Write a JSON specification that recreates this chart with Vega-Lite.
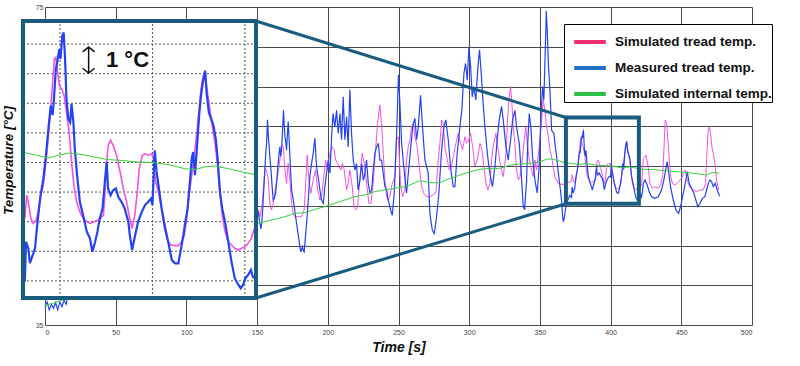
{
"$schema": "https://vega.github.io/schema/vega-lite/v6.json",
"width": 707, "height": 318,
"autosize": {"type": "none"},
"padding": {"left": 45, "top": 7, "right": 48, "bottom": 41},
"config": {
 "view": {"stroke": null},
 "font": "Liberation Sans",
 "axis": {"grid": true, "gridColor": "#4a4a4a", "gridWidth": 1, "domain": false, "ticks": false, "labelFont": "Liberation Sans", "labelFontSize": 7, "labelColor": "#444", "titleFont": "Liberation Sans", "titleFontWeight": "bold", "titleFontStyle": "italic", "titleColor": "#111", "titleFontSize": 14},
 "axisX": {"tickCount": 10, "labelPadding": 3, "titlePadding": 5},
 "axisY": {"tickCount": 8, "labelPadding": 2, "titleX": -30, "titleY": 153, "titleFontSize": 13.5}
},
"datasets": {
 "blue": [
 {"time":0,"temp":37.2},{"time":1.5,"temp":37.9},{"time":3,"temp":36.9},{"time":4.5,"temp":37.6},{"time":6,"temp":37.1},{"time":7.5,"temp":37.8},{"time":9,"temp":36.9},{"time":10.5,"temp":37.9},{"time":12,"temp":37.3},{"time":13.5,"temp":38.1},{"time":15,"temp":37.6},{"time":17,"temp":39.5},{"time":25,"temp":45},{"time":35,"temp":53},{"time":45,"temp":58},{"time":55,"temp":52},{"time":65,"temp":47},{"time":75,"temp":53},{"time":85,"temp":58},{"time":95,"temp":50},{"time":105,"temp":47},{"time":115,"temp":55},{"time":125,"temp":60},{"time":135,"temp":53},{"time":145,"temp":48},
 {"time":149.5,"temp":49.6},{"time":150.8,"temp":49.2},{"time":151.8,"temp":48.0},{"time":152.7,"temp":47.1},{"time":153.5,"temp":48.2},{"time":154.3,"temp":50.7},{"time":155.0,"temp":52.8},{"time":155.5,"temp":54.5},{"time":156.1,"temp":56.6},{"time":156.7,"temp":57.9},{"time":157.4,"temp":60.8},{"time":158.0,"temp":58.5},{"time":158.3,"temp":57.9},{"time":159.1,"temp":56.0},{"time":159.8,"temp":54.5},{"time":160.6,"temp":52.5},{"time":161.4,"temp":50.7},{"time":162.3,"temp":51.0},{"time":163.1,"temp":51.6},{"time":163.8,"temp":53.0},{"time":164.5,"temp":54.5},{"time":165.3,"temp":56.2},{"time":166.1,"temp":57.4},{"time":166.7,"temp":56.2},{"time":167.3,"temp":57.0},{"time":168.0,"temp":59.5},{"time":168.7,"temp":62.0},{"time":169.2,"temp":60.0},{"time":169.7,"temp":58.7},{"time":170.3,"temp":58.0},{"time":170.8,"temp":57.0},{"time":171.4,"temp":58.8},{"time":172.0,"temp":60.6},{"time":172.6,"temp":58.5},{"time":173.2,"temp":56.2},{"time":173.8,"temp":54.0},{"time":174.4,"temp":52.0},{"time":175.3,"temp":51.0},{"time":176.3,"temp":49.9},{"time":177.1,"temp":48.8},{"time":177.9,"temp":47.8},{"time":178.7,"temp":46.8},{"time":179.6,"temp":45.7},{"time":180.3,"temp":44.8},{"time":181.0,"temp":44.2},{"time":181.6,"temp":44.6},{"time":182.1,"temp":44.85},{"time":182.7,"temp":44.3},{"time":183.3,"temp":44.2},{"time":184.1,"temp":45.9},{"time":185.0,"temp":47.8},{"time":185.6,"temp":49.2},{"time":186.2,"temp":50.7},{"time":186.7,"temp":52.2},{"time":187.3,"temp":53.6},{"time":187.9,"temp":54.5},{"time":188.5,"temp":55.3},{"time":189.1,"temp":56.0},{"time":189.7,"temp":56.6},{"time":190.3,"temp":57.6},{"time":190.9,"temp":58.5},{"time":191.5,"temp":56.5},{"time":192.1,"temp":54.9},{"time":192.6,"temp":54.2},{"time":193.2,"temp":53.6},{"time":193.8,"temp":52.8},{"time":194.4,"temp":52.0},{"time":195.0,"temp":51.3},{"time":195.6,"temp":50.7},{"time":196.2,"temp":50.5},{"time":196.8,"temp":50.3},{"time":197.4,"temp":51.3},{"time":197.9,"temp":52.4},{"time":198.5,"temp":53.2},{"time":199.1,"temp":54.1},{"time":199.7,"temp":55.0},{"time":200.3,"temp":55.75},{"time":200.9,"temp":55.0},{"time":201.5,"temp":54.1},{"time":202.1,"temp":56.4},{"time":202.7,"temp":58.7},{"time":203.2,"temp":60.3},{"time":203.8,"temp":61.6},{"time":204.4,"temp":60.6},{"time":205.0,"temp":59.9},{"time":205.6,"temp":61.0},{"time":206.2,"temp":62.0},{"time":206.8,"temp":60.5},{"time":207.4,"temp":59.1},{"time":208.0,"temp":60.4},{"time":208.6,"temp":61.6},{"time":209.2,"temp":59.8},{"time":209.7,"temp":58.3},{"time":210.3,"temp":61.0},{"time":210.9,"temp":63.7},{"time":211.5,"temp":60.9},{"time":212.1,"temp":58.3},{"time":212.7,"temp":59.8},{"time":213.3,"temp":61.2},{"time":213.8,"temp":59.3},{"time":214.4,"temp":57.4},{"time":215.0,"temp":61.0},{"time":215.6,"temp":64.6},{"time":216.2,"temp":61.8},{"time":216.8,"temp":59.1},{"time":217.4,"temp":57.4},{"time":218.0,"temp":55.75},{"time":218.6,"temp":55.1},{"time":219.2,"temp":54.5},{"time":219.8,"temp":54.9},{"time":220.3,"temp":55.3},{"time":220.9,"temp":53.6},{"time":221.5,"temp":52.0},{"time":222.1,"temp":52.6},{"time":222.7,"temp":53.2},{"time":223.3,"temp":54.3},{"time":223.9,"temp":55.3},{"time":224.5,"temp":54.3},{"time":225.1,"temp":53.2},{"time":225.7,"temp":53.6},{"time":226.2,"temp":54.1},{"time":226.8,"temp":54.9},{"time":227.4,"temp":55.75},{"time":228.0,"temp":54.3},{"time":228.6,"temp":52.8},{"time":229.2,"temp":52.2},{"time":229.8,"temp":51.6},{"time":230.4,"temp":51.8},{"time":231.0,"temp":52.0},{"time":231.6,"temp":53.2},{"time":232.1,"temp":54.5},{"time":232.7,"temp":55.5},{"time":233.3,"temp":56.6},{"time":233.9,"temp":57.0},{"time":234.5,"temp":57.4},{"time":235.1,"temp":57.6},{"time":235.7,"temp":57.85},{"time":236.3,"temp":56.8},{"time":236.8,"temp":55.75},{"time":237.4,"temp":55.75},{"time":238.0,"temp":55.75},{"time":238.6,"temp":54.9},{"time":239.2,"temp":54.1},{"time":239.8,"temp":53.2},{"time":240.4,"temp":52.4},{"time":241.0,"temp":52.2},{"time":241.6,"temp":52.0},{"time":242.1,"temp":51.4},{"time":242.7,"temp":50.7},{"time":243.3,"temp":50.3},{"time":243.9,"temp":49.9},{"time":244.7,"temp":49.3},{"time":245.6,"temp":48.8},{"time":246.3,"temp":50.2},{"time":247.0,"temp":51.6},{"time":247.7,"temp":54.7},{"time":248.4,"temp":57.9},{"time":248.9,"temp":60.2},{"time":249.3,"temp":62.5},{"time":249.7,"temp":65.0},{"time":250.0,"temp":66.5},{"time":250.5,"temp":64.6},{"time":251.0,"temp":62.9},{"time":251.6,"temp":60.4},{"time":252.2,"temp":57.9},{"time":252.8,"temp":56.8},{"time":253.4,"temp":55.5},{"time":254.0,"temp":54.5},{"time":254.6,"temp":53.4},{"time":255.2,"temp":52.4},{"time":255.7,"temp":51.6},{"time":256.3,"temp":52.8},{"time":256.9,"temp":54.0},{"time":257.5,"temp":55.1},{"time":258.1,"temp":56.2},{"time":258.7,"temp":57.5},{"time":259.4,"temp":58.7},{"time":260.0,"temp":59.9},{"time":260.8,"temp":60.5},{"time":261.6,"temp":61.0},{"time":262.2,"temp":59.6},{"time":262.8,"temp":58.3},{"time":263.4,"temp":59.1},{"time":264.0,"temp":59.9},{"time":264.8,"temp":61.9},{"time":265.6,"temp":63.9},{"time":266.3,"temp":61.9},{"time":267.0,"temp":59.9},{"time":267.8,"temp":57.9},{"time":268.7,"temp":55.75},{"time":269.8,"temp":55.0},{"time":271.0,"temp":54.1},{"time":271.6,"temp":51.6},{"time":272.2,"temp":49.0},{"time":273.0,"temp":48.0},{"time":273.9,"temp":46.95},{"time":274.6,"temp":46.7},{"time":275.3,"temp":46.5},{"time":276.1,"temp":47.5},{"time":276.9,"temp":48.6},{"time":277.7,"temp":50.0},{"time":278.6,"temp":51.6},{"time":279.5,"temp":54.3},{"time":280.5,"temp":57.0},{"time":281.3,"temp":58.5},{"time":282.1,"temp":59.9},{"time":282.8,"temp":60.4},{"time":283.5,"temp":60.8},{"time":284.3,"temp":59.5},{"time":285.2,"temp":58.3},{"time":286.0,"temp":56.6},{"time":286.8,"temp":54.9},{"time":287.7,"temp":53.6},{"time":288.7,"temp":52.4},{"time":289.3,"temp":52.4},{"time":289.9,"temp":52.4},{"time":290.7,"temp":54.5},{"time":291.5,"temp":56.6},{"time":292.5,"temp":58.3},{"time":293.4,"temp":59.9},{"time":294.1,"temp":61.0},{"time":294.8,"temp":62.0},{"time":295.5,"temp":64.3},{"time":296.3,"temp":66.7},{"time":296.9,"temp":67.3},{"time":297.4,"temp":67.9},{"time":298.0,"temp":66.9},{"time":298.6,"temp":65.8},{"time":299.2,"temp":67.9},{"time":299.8,"temp":70.0},{"time":300.4,"temp":68.7},{"time":301.0,"temp":67.5},{"time":301.6,"temp":65.6},{"time":302.1,"temp":63.7},{"time":302.7,"temp":64.3},{"time":303.3,"temp":65.0},{"time":304.0,"temp":64.1},{"time":304.7,"temp":63.3},{"time":305.4,"temp":65.4},{"time":306.2,"temp":67.5},{"time":306.7,"temp":68.5},{"time":307.3,"temp":69.6},{"time":307.9,"temp":68.1},{"time":308.5,"temp":66.7},{"time":309.1,"temp":65.0},{"time":309.7,"temp":63.3},{"time":310.4,"temp":61.6},{"time":311.1,"temp":59.9},{"time":312.0,"temp":58.3},{"time":312.8,"temp":56.6},{"time":313.7,"temp":55.3},{"time":314.6,"temp":54.1},{"time":315.5,"temp":53.2},{"time":316.5,"temp":52.4},{"time":317.3,"temp":53.7},{"time":318.2,"temp":54.9},{"time":319.0,"temp":56.6},{"time":319.8,"temp":58.3},{"time":320.5,"temp":59.5},{"time":321.2,"temp":60.8},{"time":322.0,"temp":61.6},{"time":322.9,"temp":62.5},{"time":323.5,"temp":61.6},{"time":324.1,"temp":60.8},{"time":325.0,"temp":59.1},{"time":326.0,"temp":57.4},{"time":326.8,"temp":56.6},{"time":327.6,"temp":55.75},{"time":328.4,"temp":57.0},{"time":329.3,"temp":58.3},{"time":330.0,"temp":59.5},{"time":330.7,"temp":60.8},{"time":331.5,"temp":61.4},{"time":332.3,"temp":62.0},{"time":332.9,"temp":61.0},{"time":333.5,"temp":59.9},{"time":334.4,"temp":58.9},{"time":335.4,"temp":57.85},{"time":336.1,"temp":56.0},{"time":336.8,"temp":54.1},{"time":337.5,"temp":52.0},{"time":338.2,"temp":49.9},{"time":338.7,"temp":49.7},{"time":339.2,"temp":49.5},{"time":339.9,"temp":51.4},{"time":340.6,"temp":53.2},{"time":341.0,"temp":55.7},{"time":341.5,"temp":58.3},{"time":342.0,"temp":60.0},{"time":342.5,"temp":61.6},{"time":343.0,"temp":60.8},{"time":343.6,"temp":59.9},{"time":344.2,"temp":58.0},{"time":344.8,"temp":56.2},{"time":345.6,"temp":54.7},{"time":346.5,"temp":53.2},{"time":347.3,"temp":52.4},{"time":348.1,"temp":51.6},{"time":348.8,"temp":53.3},{"time":349.5,"temp":54.9},{"time":350.2,"temp":58.5},{"time":350.9,"temp":62.0},{"time":351.4,"temp":63.5},{"time":351.9,"temp":65.0},{"time":352.3,"temp":64.2},{"time":352.8,"temp":63.3},{"time":353.3,"temp":66.5},{"time":353.8,"temp":69.6},{"time":354.2,"temp":72.0},{"time":354.5,"temp":74.5},{"time":354.9,"temp":73.0},{"time":355.2,"temp":72.1},{"time":355.6,"temp":69.8},{"time":356.1,"temp":67.5},{"time":356.6,"temp":66.0},{"time":357.1,"temp":64.6},{"time":357.7,"temp":62.0},{"time":358.3,"temp":59.5},{"time":359.1,"temp":59.3},{"time":359.9,"temp":59.1},{"time":360.8,"temp":57.6},{"time":361.8,"temp":56.2},{"time":362.7,"temp":54.7},{"time":363.7,"temp":53.2},{"time":364.5,"temp":52.0},{"time":365.3,"temp":50.7},{"time":365.9,"temp":49.0},{"time":366.5,"temp":48.0},{"time":367.2,"temp":48.4},{"time":368.0,"temp":49.5},{"time":369.0,"temp":50.4},{"time":370.0,"temp":50.8},{"time":371.0,"temp":51.3},{"time":371.8,"temp":51.2},
 {"time":372.4,"temp":50.97},{"time":372.65,"temp":52.32},{"time":373.15,"temp":52.1},{"time":373.5,"temp":51.6},{"time":374.1,"temp":51.87},{"time":374.6,"temp":52.1},{"time":375.0,"temp":52.77},{"time":375.3,"temp":53.22},{"time":375.8,"temp":53.89},{"time":376.4,"temp":54.45},{"time":376.97,"temp":55.24},{"time":377.5,"temp":56.14},{"time":378.0,"temp":56.92},{"time":378.4,"temp":56.6},{"time":378.7,"temp":57.15},{"time":379.1,"temp":58.16},{"time":379.4,"temp":58.38},{"time":379.85,"temp":58.83},{"time":380.1,"temp":58.5},{"time":380.5,"temp":59.28},{"time":380.8,"temp":59.39},{"time":381.1,"temp":58.5},{"time":381.4,"temp":57.15},{"time":381.8,"temp":56.47},{"time":382.2,"temp":56.36},{"time":382.5,"temp":56.98},{"time":382.9,"temp":56.36},{"time":383.2,"temp":55.46},{"time":383.7,"temp":54.57},{"time":384.3,"temp":53.67},{"time":385.0,"temp":53.22},{"time":385.8,"temp":52.66},{"time":386.5,"temp":52.43},{"time":387.0,"temp":51.98},{"time":387.6,"temp":52.32},{"time":388.1,"temp":52.66},{"time":388.6,"temp":53.11},{"time":389.2,"temp":53.44},{"time":389.7,"temp":54.34},{"time":390.1,"temp":55.02},{"time":390.4,"temp":54.12},{"time":390.95,"temp":53.89},{"time":391.5,"temp":54.06},{"time":392.1,"temp":54.12},{"time":392.6,"temp":53.84},{"time":393.3,"temp":53.67},{"time":394.0,"temp":53.44},{"time":394.8,"temp":52.99},{"time":395.1,"temp":52.55},{"time":395.6,"temp":52.04},{"time":396.2,"temp":52.5},{"time":396.9,"temp":53.0},{"time":397.7,"temp":53.33},{"time":398.4,"temp":53.56},{"time":399.1,"temp":53.67},{"time":399.7,"temp":53.78},{"time":400.0,"temp":53.56},{"time":400.5,"temp":55.41},{"time":400.9,"temp":54.68},{"time":401.4,"temp":54.12},{"time":402.0,"temp":53.44},{"time":402.7,"temp":52.77},{"time":403.4,"temp":52.32},{"time":404.2,"temp":51.7},{"time":404.9,"temp":51.59},{"time":405.6,"temp":51.59},{"time":406.2,"temp":52.1},{"time":406.7,"temp":52.55},{"time":407.0,"temp":52.88},{"time":407.6,"temp":53.44},{"time":408.1,"temp":54.34},{"time":408.5,"temp":55.13},{"time":408.8,"temp":55.35},{"time":409.2,"temp":54.57},{"time":409.6,"temp":55.46},{"time":410.1,"temp":56.59},{"time":410.5,"temp":57.26},{"time":410.9,"temp":57.71},{"time":411.4,"temp":58.1},{"time":411.7,"temp":57.37},{"time":412.2,"temp":56.7},{"time":412.7,"temp":56.47},{"time":413.2,"temp":56.25},{"time":413.7,"temp":55.8},{"time":414.1,"temp":55.13},{"time":414.6,"temp":54.0},{"time":415.1,"temp":53.44},{"time":415.7,"temp":52.99},{"time":416.4,"temp":52.32},{"time":417.1,"temp":51.65},{"time":417.8,"temp":51.09},{"time":418.6,"temp":50.86},{"time":419.1,"temp":50.75},{"time":419.6,"temp":50.86},{"time":420.1,"temp":51.09},{"time":420.7,"temp":51.2},{"time":421.3,"temp":51.37},{"time":421.8,"temp":51.09},
 {"time":422.6,"temp":51.8},{"time":423.1,"temp":52.82},{"time":424.3,"temp":53.24},{"time":425.9,"temp":52.61},{"time":427.3,"temp":51.77},{"time":429.0,"temp":51.14},{"time":431.3,"temp":50.93},{"time":433.7,"temp":51.14},{"time":436.0,"temp":51.98},{"time":437.7,"temp":53.24},{"time":439.1,"temp":54.7},{"time":440.0,"temp":55.54},{"time":441.0,"temp":54.29},{"time":442.4,"temp":52.4},{"time":444.3,"temp":50.72},{"time":446.2,"temp":49.46},{"time":448.1,"temp":49.04},{"time":449.5,"temp":49.88},{"time":451.4,"temp":51.56},{"time":453.2,"temp":53.24},{"time":454.2,"temp":54.29},{"time":455.6,"temp":52.82},{"time":457.3,"temp":52.19},{"time":458.9,"temp":51.56},{"time":460.3,"temp":50.72},{"time":461.7,"temp":49.88},{"time":463.2,"temp":50.3},{"time":465.0,"temp":50.93},{"time":466.7,"temp":51.14},{"time":467.9,"temp":51.98},{"time":469.1,"temp":52.82},{"time":470.2,"temp":53.24},{"time":471.4,"temp":53.03},{"time":472.6,"temp":52.4},{"time":474.0,"temp":52.82},{"time":475.4,"temp":51.98},{"time":476.8,"temp":51.35},{"time":477.3,"temp":51.2}
 ],
 "pink": [
 {"time":0,"temp":42},{"time":10,"temp":46},{"time":20,"temp":55},{"time":35,"temp":52},{"time":50,"temp":48},{"time":65,"temp":55},{"time":80,"temp":50},{"time":95,"temp":46},{"time":110,"temp":56},{"time":125,"temp":58},{"time":138,"temp":50},{"time":146,"temp":49},
 {"time":149.5,"temp":49.8},{"time":150.8,"temp":49.47},{"time":152.0,"temp":48.63},{"time":153.6,"temp":50.3},{"time":155.5,"temp":54.71},{"time":156.7,"temp":54.5},{"time":157.9,"temp":53.24},{"time":159.0,"temp":50.3},{"time":160.2,"temp":49.47},{"time":161.4,"temp":50.3},{"time":163.1,"temp":52.4},{"time":164.5,"temp":53.66},{"time":166.1,"temp":55.76},{"time":167.3,"temp":57.65},{"time":168.5,"temp":57.44},{"time":169.7,"temp":54.5},{"time":170.8,"temp":52.82},{"time":172.0,"temp":55.34},{"time":173.2,"temp":53.24},{"time":174.4,"temp":50.3},{"time":175.55,"temp":49.05},{"time":176.7,"temp":48.63},{"time":179.1,"temp":48.63},{"time":181.4,"temp":48.63},{"time":183.3,"temp":49.47},{"time":184.5,"temp":53.24},{"time":185.4,"temp":56.39},{"time":186.6,"temp":53.24},{"time":188.0,"temp":51.57},{"time":189.7,"temp":53.24},{"time":191.3,"temp":54.5},{"time":192.8,"temp":51.99},{"time":194.4,"temp":50.73},{"time":195.6,"temp":51.15},{"time":197.2,"temp":53.66},{"time":198.4,"temp":55.76},{"time":199.8,"temp":54.5},{"time":201.5,"temp":56.6},{"time":203.1,"temp":57.44},{"time":204.5,"temp":57.02},{"time":205.5,"temp":55.76},{"time":206.9,"temp":55.34},{"time":207.8,"temp":54.92},{"time":209.3,"temp":54.5},{"time":210.4,"temp":55.34},{"time":211.6,"temp":54.5},{"time":213.3,"temp":51.99},{"time":214.4,"temp":52.82},{"time":215.6,"temp":54.5},{"time":217.3,"temp":52.4},{"time":218.5,"temp":49.89},{"time":219.9,"temp":49.47},{"time":221.05,"temp":49.68},{"time":222.2,"temp":52.4},{"time":223.4,"temp":54.92},{"time":224.3,"temp":56.6},{"time":225.8,"temp":55.34},{"time":227.4,"temp":52.82},{"time":229.1,"temp":50.3},{"time":230.5,"temp":50.3},{"time":232.1,"temp":52.82},{"time":233.8,"temp":57.02},{"time":235.2,"temp":60.37},{"time":236.8,"temp":62.68},{"time":238.0,"temp":60.37},{"time":239.2,"temp":56.6},{"time":240.4,"temp":53.24},{"time":241.6,"temp":51.15},{"time":242.7,"temp":50.73},{"time":243.9,"temp":51.15},{"time":245.6,"temp":52.82},{"time":247.5,"temp":53.66},{"time":248.6,"temp":58.27},{"time":249.8,"temp":58.69},{"time":250.6,"temp":56.0},{"time":251.5,"temp":52.5},{"time":252.9,"temp":51.14},{"time":254.5,"temp":52.0},{"time":255.7,"temp":55.75},{"time":256.9,"temp":57.43},{"time":258.1,"temp":58.27},{"time":259.2,"temp":59.94},{"time":260.4,"temp":60.36},{"time":261.6,"temp":58.69},{"time":263.2,"temp":57.43},{"time":264.7,"temp":54.91},{"time":266.3,"temp":52.4},{"time":268.0,"temp":51.56},{"time":269.9,"temp":51.14},{"time":272.2,"temp":51.14},{"time":274.6,"temp":51.35},{"time":276.5,"temp":51.77},{"time":278.1,"temp":55.75},{"time":279.3,"temp":57.85},{"time":280.5,"temp":60.78},{"time":281.6,"temp":60.36},{"time":282.8,"temp":57.43},{"time":284.5,"temp":55.75},{"time":285.9,"temp":54.49},{"time":287.5,"temp":54.91},{"time":288.7,"temp":56.17},{"time":290.6,"temp":57.85},{"time":292.2,"temp":59.1},{"time":293.9,"temp":57.85},{"time":295.3,"temp":57.01},{"time":297.0,"temp":58.69},{"time":298.1,"temp":57.85},{"time":299.6,"temp":58.27},{"time":301.0,"temp":59.1},{"time":302.4,"temp":57.43},{"time":304.0,"temp":54.91},{"time":305.7,"temp":55.75},{"time":307.6,"temp":57.85},{"time":309.0,"temp":57.01},{"time":310.4,"temp":54.91},{"time":311.8,"temp":52.82},{"time":313.2,"temp":51.98},{"time":314.6,"temp":52.82},{"time":315.8,"temp":55.75},{"time":317.0,"temp":57.43},{"time":318.9,"temp":59.1},{"time":320.5,"temp":57.01},{"time":322.2,"temp":54.91},{"time":324.1,"temp":53.66},{"time":326.0,"temp":56.59},{"time":327.1,"temp":60.78},{"time":328.3,"temp":63.72},{"time":329.3,"temp":64.98},{"time":330.2,"temp":62.88},{"time":331.1,"temp":59.94},{"time":332.3,"temp":57.85},{"time":333.5,"temp":54.49},{"time":334.7,"temp":53.24},{"time":335.9,"temp":53.66},{"time":337.0,"temp":54.91},{"time":338.7,"temp":57.85},{"time":340.1,"temp":59.94},{"time":341.0,"temp":57.85},{"time":342.5,"temp":55.75},{"time":344.1,"temp":54.49},{"time":345.3,"temp":53.66},{"time":346.5,"temp":55.75},{"time":347.6,"temp":54.49},{"time":349.5,"temp":57.43},{"time":351.2,"temp":60.78},{"time":352.4,"temp":63.3},{"time":353.5,"temp":62.04},{"time":354.7,"temp":59.94},{"time":355.9,"temp":58.69},{"time":357.1,"temp":57.01},{"time":358.3,"temp":56.17},{"time":359.4,"temp":54.91},{"time":360.6,"temp":53.66},{"time":361.8,"temp":53.24},{"time":363.0,"temp":52.82},{"time":364.6,"temp":52.7},{"time":366.5,"temp":52.7},{"time":368.9,"temp":52.82},{"time":371.2,"temp":53.0},
 {"time":372.4,"temp":53.11},{"time":372.8,"temp":53.89},{"time":373.15,"temp":53.67},{"time":373.7,"temp":53.11},{"time":374.2,"temp":52.94},{"time":374.8,"temp":53.05},{"time":375.3,"temp":53.33},{"time":375.8,"temp":53.89},{"time":376.4,"temp":54.23},{"time":376.97,"temp":55.02},{"time":377.5,"temp":55.91},{"time":378.0,"temp":56.81},{"time":378.4,"temp":57.71},{"time":378.8,"temp":58.5},{"time":379.1,"temp":58.55},{"time":379.5,"temp":58.05},{"time":379.85,"temp":57.6},{"time":380.4,"temp":57.48},{"time":380.9,"temp":57.26},{"time":381.4,"temp":56.7},{"time":382.0,"temp":56.02},{"time":382.5,"temp":55.02},{"time":383.0,"temp":54.23},{"time":383.6,"temp":53.67},{"time":384.3,"temp":53.33},{"time":385.0,"temp":53.11},{"time":385.8,"temp":52.99},{"time":386.5,"temp":52.94},{"time":387.2,"temp":52.99},{"time":388.1,"temp":53.05},{"time":388.8,"temp":53.11},{"time":389.4,"temp":53.22},{"time":389.7,"temp":53.89},{"time":390.1,"temp":55.02},{"time":390.45,"temp":55.58},{"time":390.95,"temp":55.75},{"time":391.5,"temp":55.58},{"time":392.25,"temp":55.24},{"time":393.0,"temp":54.68},{"time":393.7,"temp":54.12},{"time":394.4,"temp":53.67},{"time":395.1,"temp":53.11},{"time":395.6,"temp":52.77},{"time":396.2,"temp":53.22},{"time":396.7,"temp":54.0},{"time":397.15,"temp":54.8},{"time":397.8,"temp":55.24},{"time":398.4,"temp":55.3},{"time":399.1,"temp":55.24},{"time":399.8,"temp":55.3},{"time":400.2,"temp":55.13},{"time":400.7,"temp":54.34},{"time":401.3,"temp":54.0},{"time":401.8,"temp":53.56},{"time":402.3,"temp":53.22},{"time":402.9,"temp":52.77},{"time":403.4,"temp":52.32},{"time":404.0,"temp":52.21},{"time":404.7,"temp":52.19},{"time":405.6,"temp":52.19},{"time":406.3,"temp":52.32},{"time":406.9,"temp":52.55},{"time":407.4,"temp":53.11},{"time":407.9,"temp":53.89},{"time":408.5,"temp":54.57},{"time":409.05,"temp":55.24},{"time":409.6,"temp":56.02},{"time":410.1,"temp":56.81},{"time":410.5,"temp":57.48},{"time":411.0,"temp":57.93},{"time":411.4,"temp":58.05},{"time":411.7,"temp":57.6},{"time":412.2,"temp":57.04},{"time":412.8,"temp":56.36},{"time":413.5,"temp":55.69},{"time":414.1,"temp":54.9},{"time":414.6,"temp":54.0},{"time":415.1,"temp":53.22},{"time":415.7,"temp":52.66},{"time":416.4,"temp":52.32},{"time":417.1,"temp":52.21},{"time":417.8,"temp":52.1},{"time":418.6,"temp":52.04},{"time":419.3,"temp":52.1},{"time":420.0,"temp":52.15},{"time":420.7,"temp":52.27},{"time":421.4,"temp":52.43},{"time":422.0,"temp":52.77},
 {"time":423.1,"temp":55.96},{"time":425.0,"temp":56.38},{"time":426.6,"temp":54.91},{"time":427.8,"temp":52.82},{"time":429.7,"temp":52.19},{"time":431.3,"temp":52.4},{"time":433.7,"temp":52.19},{"time":435.3,"temp":52.61},{"time":436.8,"temp":53.66},{"time":437.7,"temp":57.01},{"time":438.6,"temp":60.78},{"time":439.6,"temp":60.37},{"time":440.5,"temp":58.27},{"time":441.5,"temp":55.75},{"time":442.6,"temp":53.66},{"time":443.8,"temp":52.82},{"time":445.5,"temp":52.61},{"time":447.1,"temp":52.82},{"time":449.0,"temp":53.24},{"time":450.4,"temp":53.45},{"time":451.8,"temp":54.29},{"time":452.8,"temp":54.5},{"time":453.7,"temp":53.66},{"time":454.9,"temp":52.82},{"time":456.5,"temp":52.19},{"time":458.4,"temp":51.98},{"time":460.8,"temp":51.77},{"time":463.1,"temp":51.98},{"time":465.5,"temp":51.98},{"time":467.2,"temp":52.82},{"time":467.9,"temp":55.75},{"time":468.8,"temp":59.11},{"time":469.8,"temp":59.95},{"time":470.7,"temp":59.11},{"time":471.6,"temp":57.43},{"time":472.6,"temp":56.59},{"time":473.8,"temp":55.33},{"time":474.9,"temp":53.24},{"time":476.4,"temp":51.98}
 ],
 "green": [
 {"time":0,"temp":37.5},{"time":5,"temp":37.7},{"time":10,"temp":38.0},{"time":15,"temp":38.3},{"time":30,"temp":40},{"time":60,"temp":43},{"time":90,"temp":45},{"time":120,"temp":46.8},{"time":150.8,"temp":47.79},{"time":155.5,"temp":48.0},{"time":162.6,"temp":48.3},{"time":169.7,"temp":48.63},{"time":176.7,"temp":49.05},{"time":183.8,"temp":49.13},{"time":190.9,"temp":49.55},{"time":197.9,"temp":49.89},{"time":205.0,"temp":50.31},{"time":212.1,"temp":50.73},{"time":219.2,"temp":51.15},{"time":226.2,"temp":51.36},{"time":233.3,"temp":51.78},{"time":240.4,"temp":51.99},{"time":247.5,"temp":52.2},{"time":254.5,"temp":52.41},{"time":258.1,"temp":52.61},{"time":265.1,"temp":53.15},{"time":272.2,"temp":52.9},{"time":279.3,"temp":52.9},{"time":286.4,"temp":53.45},{"time":293.4,"temp":53.86},{"time":300.5,"temp":54.28},{"time":307.6,"temp":54.58},{"time":314.6,"temp":54.7},{"time":321.7,"temp":54.7},{"time":328.8,"temp":55.12},{"time":335.9,"temp":55.25},{"time":342.9,"temp":55.33},{"time":350.0,"temp":55.54},{"time":354.7,"temp":55.84},{"time":358.3,"temp":55.9},{"time":364.1,"temp":55.6},{"time":368.0,"temp":55.4},{"time":372.4,"temp":55.33},{"time":375.0,"temp":55.24},{"time":377.5,"temp":55.15},{"time":380.0,"temp":55.26},{"time":382.2,"temp":55.32},{"time":385.8,"temp":55.24},{"time":390.1,"temp":55.1},{"time":393.0,"temp":55.07},{"time":396.6,"temp":55.02},{"time":400.0,"temp":55.0},{"time":403.4,"temp":54.93},{"time":407.0,"temp":54.79},{"time":409.2,"temp":54.76},{"time":411.4,"temp":54.85},{"time":413.5,"temp":54.88},{"time":416.4,"temp":54.79},{"time":420.0,"temp":54.66},{"time":422.2,"temp":54.59},{"time":430.1,"temp":54.55},{"time":439.6,"temp":54.4},{"time":449.0,"temp":54.25},{"time":458.4,"temp":54.08},{"time":467.9,"temp":53.87},{"time":471.4,"temp":54.16},{"time":474.9,"temp":54.16},{"time":476.8,"temp":54.08}
 ]
},
"layer": [
 {"layer": [
  {"data": {"name": "pink"}, "mark": {"type": "line", "color": "#f552e2", "strokeWidth": 1},
   "encoding": {"x": {"field": "time", "type": "quantitative", "title": "Time [s]", "scale": {"domain": [0, 500], "nice": false, "zero": false}},
                "y": {"field": "temp", "type": "quantitative", "title": "Temperature [°C]", "scale": {"domain": [35, 75], "nice": false, "zero": false}}}},
  {"data": {"name": "blue"}, "mark": {"type": "line", "color": "#2343f2", "strokeWidth": 1.2},
   "encoding": {"x": {"field": "time", "type": "quantitative", "title": "Time [s]", "scale": {"domain": [0, 500], "nice": false, "zero": false}},
                "y": {"field": "temp", "type": "quantitative", "title": "Temperature [°C]", "scale": {"domain": [35, 75], "nice": false, "zero": false}}}},
  {"data": {"name": "green"}, "mark": {"type": "line", "color": "#33d433", "strokeWidth": 1},
   "encoding": {"x": {"field": "time", "type": "quantitative", "title": "Time [s]", "scale": {"domain": [0, 500], "nice": false, "zero": false}},
                "y": {"field": "temp", "type": "quantitative", "title": "Temperature [°C]", "scale": {"domain": [35, 75], "nice": false, "zero": false}}}},
  {"data": {"values": [{}]}, "mark": {"type": "rect", "fillOpacity": 0, "stroke": "#1a5b80", "strokeWidth": 4},
   "encoding": {"x": {"datum": 368.4, "type": "quantitative", "title": "Time [s]", "scale": {"domain": [0, 500], "nice": false, "zero": false}}, "x2": {"datum": 420},
                "y": {"datum": 50.25, "type": "quantitative", "title": "Temperature [°C]", "scale": {"domain": [35, 75], "nice": false, "zero": false}}, "y2": {"datum": 61.1}}},
  {"data": {"values": [{}]}, "mark": {"type": "rule", "color": "#1a5b80", "strokeWidth": 3},
   "encoding": {"x": {"datum": 149.15, "type": "quantitative", "title": "Time [s]", "scale": {"domain": [0, 500], "nice": false, "zero": false}}, "x2": {"datum": 368.4},
                "y": {"datum": 73.24, "type": "quantitative", "title": "Temperature [°C]", "scale": {"domain": [35, 75], "nice": false, "zero": false}}, "y2": {"datum": 61.1}}},
  {"data": {"values": [{}]}, "mark": {"type": "rule", "color": "#1a5b80", "strokeWidth": 3},
   "encoding": {"x": {"datum": 149.15, "type": "quantitative", "title": "Time [s]", "scale": {"domain": [0, 500], "nice": false, "zero": false}}, "x2": {"datum": 368.4},
                "y": {"datum": 38.4, "type": "quantitative", "title": "Temperature [°C]", "scale": {"domain": [35, 75], "nice": false, "zero": false}}, "y2": {"datum": 50.25}}},
  {"data": {"values": [{"series": "Simulated tread temp."}, {"series": "Measured tread temp."}, {"series": "Simulated internal temp."}]},
   "transform": [{"filter": "false"}],
   "mark": {"type": "line"},
   "encoding": {"x": {"datum": 0, "type": "quantitative", "title": "Time [s]", "scale": {"domain": [0, 500], "nice": false, "zero": false}},
                "y": {"datum": 50, "type": "quantitative", "title": "Temperature [°C]", "scale": {"domain": [35, 75], "nice": false, "zero": false}},
                "color": {"field": "series", "type": "nominal",
                  "scale": {"domain": ["Simulated tread temp.", "Measured tread temp.", "Simulated internal temp."], "range": ["#f0306c", "#1f6fc2", "#2cc24a"]},
                  "legend": {"orient": "none", "legendX": 519, "legendY": 17, "title": null, "padding": 0, "strokeColor": "#000", "fillColor": "white",
                    "symbolType": "stroke", "symbolStrokeWidth": 4, "symbolSize": 1000, "symbolOffset": 8, "labelFont": "Liberation Sans", "labelFontWeight": "bold", "labelFontSize": 13.5,
                    "labelColor": "#111", "rowPadding": -1, "labelOffset": 7, "labelLimit": 300}}}}
 ]},
 {"layer": [
  {"data": {"values": [{}]}, "mark": {"type": "rect", "fill": "white"},
   "encoding": {"x": {"datum": 372, "type": "quantitative", "scale": {"domain": [372, 422.4], "range": [-22, 211], "nice": false, "zero": false}, "axis": null}, "x2": {"datum": 422.4},
                "y": {"datum": 50.42, "type": "quantitative", "scale": {"domain": [50.42, 59.78], "range": [291, 14], "nice": false, "zero": false}, "axis": null}, "y2": {"datum": 59.78}}},
  {"data": {"values": [{"level": 51}, {"level": 52}, {"level": 53}, {"level": 54}, {"level": 55}, {"level": 56}, {"level": 57}, {"level": 58}, {"level": 59}]},
   "mark": {"type": "rule", "color": "#555", "strokeDash": [2, 2], "strokeWidth": 1},
   "encoding": {"x": {"datum": 372, "type": "quantitative", "scale": {"domain": [372, 422.4], "range": [-22, 211], "nice": false, "zero": false}, "axis": null}, "x2": {"datum": 422.4},
                "y": {"field": "level", "type": "quantitative", "scale": {"domain": [50.42, 59.78], "range": [291, 14], "nice": false, "zero": false}, "axis": null}}},
  {"data": {"values": [{"tick": 380}, {"tick": 400}, {"tick": 420}]},
   "mark": {"type": "rule", "color": "#555", "strokeDash": [2, 2], "strokeWidth": 1},
   "encoding": {"x": {"field": "tick", "type": "quantitative", "scale": {"domain": [372, 422.4], "range": [-22, 211], "nice": false, "zero": false}, "axis": null},
                "y": {"datum": 50.42, "type": "quantitative", "scale": {"domain": [50.42, 59.78], "range": [291, 14], "nice": false, "zero": false}, "axis": null}, "y2": {"datum": 59.78}}},
  {"data": {"name": "pink"}, "transform": [{"filter": "datum.time >= 372 && datum.time <= 422.4"}], "mark": {"type": "line", "color": "#f552e2", "strokeWidth": 1.6},
   "encoding": {"x": {"field": "time", "type": "quantitative", "scale": {"domain": [372, 422.4], "range": [-22, 211], "nice": false, "zero": false}, "axis": null},
                "y": {"field": "temp", "type": "quantitative", "scale": {"domain": [50.42, 59.78], "range": [291, 14], "nice": false, "zero": false}, "axis": null}}},
  {"data": {"name": "blue"}, "transform": [{"filter": "datum.time >= 372 && datum.time <= 422.4"}], "mark": {"type": "line", "color": "#2343f2", "strokeWidth": 2.2},
   "encoding": {"x": {"field": "time", "type": "quantitative", "scale": {"domain": [372, 422.4], "range": [-22, 211], "nice": false, "zero": false}, "axis": null},
                "y": {"field": "temp", "type": "quantitative", "scale": {"domain": [50.42, 59.78], "range": [291, 14], "nice": false, "zero": false}, "axis": null}}},
  {"data": {"name": "green"}, "transform": [{"filter": "datum.time >= 372 && datum.time <= 422.4"}], "mark": {"type": "line", "color": "#33d433", "strokeWidth": 1},
   "encoding": {"x": {"field": "time", "type": "quantitative", "scale": {"domain": [372, 422.4], "range": [-22, 211], "nice": false, "zero": false}, "axis": null},
                "y": {"field": "temp", "type": "quantitative", "scale": {"domain": [50.42, 59.78], "range": [291, 14], "nice": false, "zero": false}, "axis": null}}},
  {"data": {"values": [{}]}, "mark": {"type": "rule", "color": "#111", "strokeWidth": 1.5},
   "encoding": {"x": {"datum": 386.2, "type": "quantitative", "scale": {"domain": [372, 422.4], "range": [-22, 211], "nice": false, "zero": false}, "axis": null},
                "y": {"datum": 58.02, "type": "quantitative", "scale": {"domain": [50.42, 59.78], "range": [291, 14], "nice": false, "zero": false}, "axis": null}, "y2": {"datum": 58.9}}},
  {"data": {"values": [{}]}, "mark": {"type": "point", "shape": "M-1,0.8L0,0L1,0.8", "size": 144, "filled": false, "stroke": "#111", "strokeWidth": 1.5, "opacity": 1},
   "encoding": {"x": {"datum": 386.2, "type": "quantitative", "scale": {"domain": [372, 422.4], "range": [-22, 211], "nice": false, "zero": false}, "axis": null},
                "y": {"datum": 58.9, "type": "quantitative", "scale": {"domain": [50.42, 59.78], "range": [291, 14], "nice": false, "zero": false}, "axis": null}}},
  {"data": {"values": [{}]}, "mark": {"type": "point", "shape": "M-1,-0.8L0,0L1,-0.8", "size": 144, "filled": false, "stroke": "#111", "strokeWidth": 1.5, "opacity": 1},
   "encoding": {"x": {"datum": 386.2, "type": "quantitative", "scale": {"domain": [372, 422.4], "range": [-22, 211], "nice": false, "zero": false}, "axis": null},
                "y": {"datum": 58.02, "type": "quantitative", "scale": {"domain": [50.42, 59.78], "range": [291, 14], "nice": false, "zero": false}, "axis": null}}},
  {"data": {"values": [{}]}, "mark": {"type": "text", "text": "1 °C", "font": "Liberation Sans", "fontWeight": "bold", "fontSize": 22, "align": "left", "baseline": "middle", "color": "#111"},
   "encoding": {"x": {"datum": 389.95, "type": "quantitative", "scale": {"domain": [372, 422.4], "range": [-22, 211], "nice": false, "zero": false}, "axis": null},
                "y": {"datum": 58.47, "type": "quantitative", "scale": {"domain": [50.42, 59.78], "range": [291, 14], "nice": false, "zero": false}, "axis": null}}},
  {"data": {"values": [{}]}, "mark": {"type": "rect", "fillOpacity": 0, "stroke": "#1a5b80", "strokeWidth": 4},
   "encoding": {"x": {"datum": 372, "type": "quantitative", "scale": {"domain": [372, 422.4], "range": [-22, 211], "nice": false, "zero": false}, "axis": null}, "x2": {"datum": 422.4},
                "y": {"datum": 50.42, "type": "quantitative", "scale": {"domain": [50.42, 59.78], "range": [291, 14], "nice": false, "zero": false}, "axis": null}, "y2": {"datum": 59.78}}}
 ]}
],
"resolve": {"scale": {"x": "independent", "y": "independent"}}
}
